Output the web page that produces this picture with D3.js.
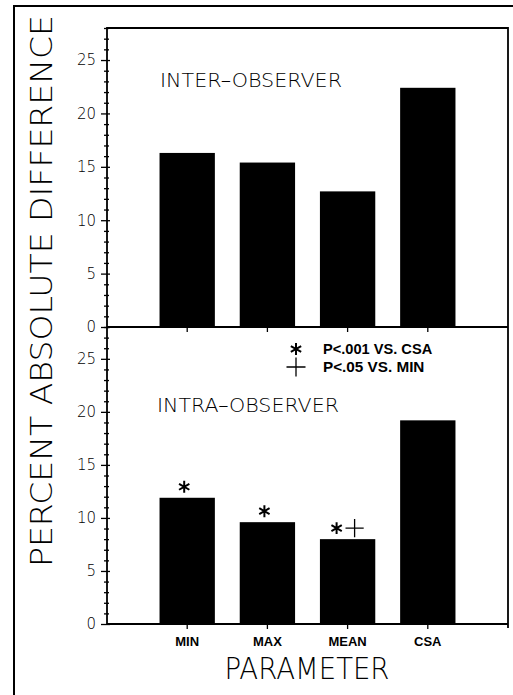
<!DOCTYPE html>
<html>
<head>
  <meta charset="utf-8">
  <title>Percent absolute difference</title>
  <script src="https://d3js.org/d3.v7.min.js"></script>
  <style>
  body { margin: 0; background: #fff; }
  text { font-family: "Liberation Sans", Arial, sans-serif; fill: #000; }
  .thin { font-family: "DejaVu Sans", "Liberation Sans", sans-serif; font-weight: 200; }
  </style>
</head>
<body>
<div id="chart"></div>
<script type="text/javascript">
// values
var categories = ["MIN", "MAX", "MEAN", "CSA"];
var interValues = [16.3, 15.4, 12.7, 22.4];
var intraValues = [11.9, 9.6, 8.0, 19.2];
var intraMarks = [["*"], ["*"], ["*", "+"], []];
var yTickLabels = [0, 5, 10, 15, 20, 25];
var legendItems = [["*", "P<.001 VS. CSA"], ["+", "P<.05 VS. MIN"]];

var W = 513, H = 695;
var LEFT = 107, RIGHT = 508, TOP = 28, MID = 327, BOTTOM = 624;

var svg = d3.select("#chart").append("svg")
  .attr("width", W)
  .attr("height", H);

// outer frame (only left and top edges show)
svg.append("path")
  .attr("d", "M14," + H + "V6H" + W)
  .attr("fill", "none")
  .attr("stroke", "#000")
  .attr("stroke-width", 2);

var x = d3.scaleBand()
  .domain(categories)
  .range([LEFT, RIGHT])
  .paddingInner(0.31)
  .paddingOuter(0.655);

var yTop = d3.scaleLinear().domain([0, 28]).range([MID, TOP]);
var yBot = d3.scaleLinear().domain([0, 28]).range([BOTTOM, MID]);

function star(size) { return d3.symbol().type(d3.symbolAsterisk).size(size)(); }
function plus(size) { return d3.symbol().type(d3.symbolPlus).size(size)(); }

function drawPanel(y, values, title, titleX, titleY) {
  var g = svg.append("g");

  g.selectAll("rect.bar")
    .data(values)
    .enter().append("rect")
    .attr("class", "bar")
    .attr("x", function(d, i) { return x(categories[i]); })
    .attr("width", x.bandwidth())
    .attr("y", function(d) { return y(d); })
    .attr("height", function(d) { return y(0) - y(d); })
    .attr("fill", "#000");

  // left axis with crossing ticks, minor tick every unit
  var ax = g.append("g")
    .attr("transform", "translate(" + LEFT + ",0)")
    .call(d3.axisLeft(y)
      .tickValues(d3.range(0, 29))
      .tickSize(5)
      .tickFormat(function(d) { return yTickLabels.indexOf(d) >= 0 ? d : ""; }));
  ax.select(".domain").remove();
  ax.selectAll(".tick line")
    .attr("x1", function(d) { return d % 5 === 0 ? 3 : 2; })
    .attr("x2", function(d) { return d % 5 === 0 ? -6 : -3; })
    .attr("stroke-width", 1.3);
  ax.selectAll(".tick text")
    .attr("x", -11)
    .attr("class", "thin")
    .style("font-size", "15px");

  // category ticks under the baseline
  g.selectAll("line.ctick")
    .data(categories)
    .enter().append("line")
    .attr("x1", function(d) { return x(d) + x.bandwidth() / 2; })
    .attr("x2", function(d) { return x(d) + x.bandwidth() / 2; })
    .attr("y1", y(0))
    .attr("y2", y(0) + 5)
    .attr("stroke", "#000")
    .attr("stroke-width", 1.3);

  g.append("text")
    .attr("class", "thin")
    .attr("x", titleX)
    .attr("y", titleY)
    .attr("textLength", 182)
    .attr("lengthAdjust", "spacingAndGlyphs")
    .style("font-size", "19px")
    .text(title);
  return g;
}

drawPanel(yTop, interValues, "INTER\u2013OBSERVER", 160, 87);
var bot = drawPanel(yBot, intraValues, "INTRA\u2013OBSERVER", 157, 412);

// plot box lines
svg.append("path")
  .attr("d", "M" + LEFT + "," + BOTTOM + "V" + TOP + "H" + RIGHT + "V" + (BOTTOM + 4))
  .attr("fill", "none").attr("stroke", "#000").attr("stroke-width", 1.8);
svg.append("line")
  .attr("x1", LEFT).attr("x2", RIGHT).attr("y1", MID).attr("y2", MID)
  .attr("stroke", "#000").attr("stroke-width", 1.8);
svg.append("line")
  .attr("x1", LEFT).attr("x2", RIGHT).attr("y1", BOTTOM).attr("y2", BOTTOM)
  .attr("stroke", "#000").attr("stroke-width", 1.8);

// significance marks above intra bars
intraMarks.forEach(function(marks, i) {
  var cx = x(categories[i]) + x.bandwidth() / 2;
  var cy = yBot(intraValues[i]) - 11;
  marks.forEach(function(m, j) {
    var dx = marks.length === 1 ? -3 : (j === 0 ? -11 : 7);
    bot.append("path")
      .attr("d", m === "*" ? star(100) : plus(110))
      .attr("transform", "translate(" + (cx + dx) + "," + cy + ")")
      .attr("fill", "none")
      .attr("stroke", "#000")
      .attr("stroke-width", m === "*" ? 2 : 1.3);
  });
});

// category labels
svg.selectAll("text.cat")
  .data(categories)
  .enter().append("text")
  .attr("class", "cat")
  .attr("x", function(d) { return x(d) + x.bandwidth() / 2; })
  .attr("y", 646)
  .attr("text-anchor", "middle")
  .style("font-size", "13px")
  .style("font-weight", "bold")
  .text(function(d) { return d; });

// legend
var leg = svg.append("g");
legendItems.forEach(function(it, i) {
  var ly = 349 + i * 18;
  leg.append("path")
    .attr("d", it[0] === "*" ? star(100) : plus(120))
    .attr("transform", "translate(296," + ly + ")")
    .attr("fill", "none")
    .attr("stroke", "#000")
    .attr("stroke-width", it[0] === "*" ? 2 : 1.3);
  leg.append("text")
    .attr("x", 323)
    .attr("y", ly + 5)
    .attr("textLength", it[1].length * 7.8)
    .attr("lengthAdjust", "spacingAndGlyphs")
    .style("font-size", "14px")
    .style("font-weight", "bold")
    .text(it[1]);
});

// axis titles
svg.append("text")
  .attr("class", "thin")
  .attr("transform", "translate(52,291) rotate(-90)")
  .attr("text-anchor", "middle")
  .attr("textLength", 552)
  .attr("lengthAdjust", "spacingAndGlyphs")
  .style("font-size", "30px")
  .text("PERCENT ABSOLUTE DIFFERENCE");

svg.append("text")
  .attr("class", "thin")
  .attr("x", 307)
  .attr("y", 679)
  .attr("text-anchor", "middle")
  .attr("textLength", 165)
  .attr("lengthAdjust", "spacingAndGlyphs")
  .style("font-size", "30px")
  .text("PARAMETER");
</script>
</body>
</html>
